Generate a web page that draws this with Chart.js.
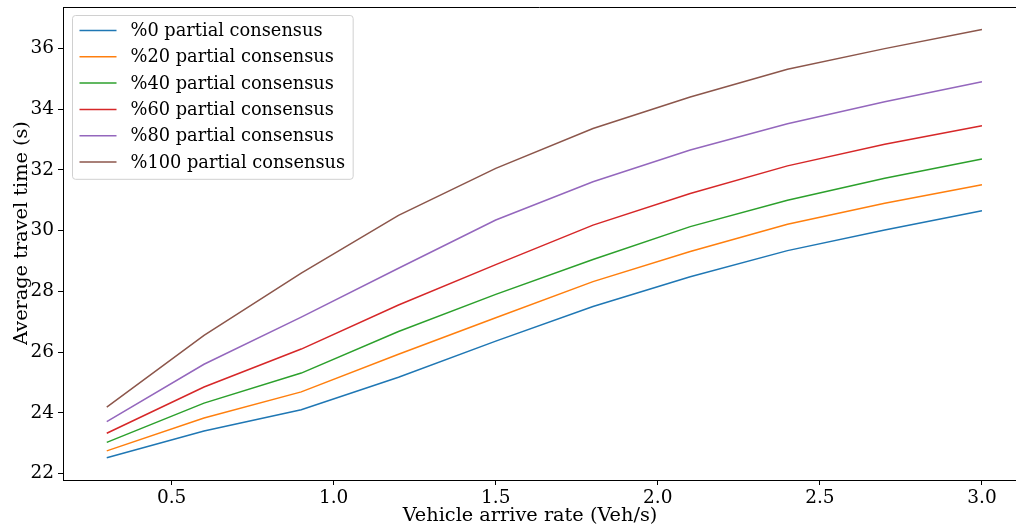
<!DOCTYPE html>
<html>
<head>
<meta charset="utf-8">
<script src="https://cdn.jsdelivr.net/npm/chart.js@4.4.1/dist/chart.umd.min.js"></script>
<style>
  html, body { margin: 0; padding: 0; background: #fff; }
  #wrap { width: 1016px; height: 529px; }
</style>
</head>
<body>
<div id="wrap"><canvas id="myChart" width="1016" height="529"></canvas></div>
<script>
// arrival rate (Veh/s)
var rates = [0.3, 0.6, 0.9, 1.2, 1.5, 1.8, 2.1, 2.4, 2.7, 3.0];

// average travel time (s) per share of partial consensus
var pc0   = [22.52, 23.40, 24.10, 25.17, 26.36, 27.50, 28.48, 29.34, 30.02, 30.65];
var pc20  = [22.75, 23.83, 24.69, 25.93, 27.13, 28.32, 29.31, 30.21, 30.90, 31.51];
var pc40  = [23.03, 24.32, 25.31, 26.68, 27.90, 29.05, 30.13, 31.00, 31.72, 32.36];
var pc60  = [23.33, 24.85, 26.10, 27.55, 28.88, 30.18, 31.22, 32.13, 32.84, 33.45];
var pc80  = [23.71, 25.60, 27.15, 28.76, 30.35, 31.61, 32.65, 33.52, 34.24, 34.90];
var pc100 = [24.19, 26.55, 28.60, 30.50, 32.05, 33.36, 34.40, 35.31, 35.99, 36.62];

var seriesNames = ['%0 partial consensus', '%20 partial consensus', '%40 partial consensus',
                   '%60 partial consensus', '%80 partial consensus', '%100 partial consensus'];
var seriesValues = [pc0, pc20, pc40, pc60, pc80, pc100];
var colors = ['#1f77b4', '#ff7f0e', '#2ca02c', '#d62728', '#9467bd', '#8c564b'];

var xTicks = [0.5, 1.0, 1.5, 2.0, 2.5, 3.0];
var yTicks = [22, 24, 26, 28, 30, 32, 34, 36];

var xTitle = 'Vehicle arrive rate (Veh/s)';
var yTitle = 'Average travel time (s)';

var FONT = "'DejaVu Serif', serif";

var datasets = seriesValues.map(function (vals, i) {
    return {
        label: seriesNames[i],
        data: vals.map(function (v, j) { return { x: rates[j], y: v }; }),
        borderColor: colors[i],
        backgroundColor: colors[i],
        borderWidth: 1.5,
        pointRadius: 0,
        tension: 0,
        fill: false
    };
});

// top spine, axis titles and legend box like matplotlib's
var framePlugin = {
    id: 'frame',
    afterDatasetsDraw: function (chart) {
        var ctx = chart.ctx, a = chart.chartArea;
        ctx.save();
        ctx.strokeStyle = '#000';
        ctx.lineWidth = 1;
        ctx.beginPath();
        ctx.moveTo(a.left, a.top + 0.5);
        ctx.lineTo(a.right, a.top + 0.5);
        ctx.stroke();

        // axis titles (matplotlib centres them on the uncropped axes)
        ctx.fillStyle = '#000';
        ctx.font = '19.3px ' + FONT;
        ctx.textAlign = 'center';
        ctx.textBaseline = 'middle';
        ctx.fillText(xTitle, 530, 516);
        ctx.save();
        ctx.translate(22, 233);
        ctx.rotate(-Math.PI / 2);
        ctx.fillText(yTitle, 0, 0);
        ctx.restore();

        ctx.font = '17.8px ' + FONT;
        var maxW = 0;
        chart.data.datasets.forEach(function (d) {
            maxW = Math.max(maxW, ctx.measureText(d.label).width);
        });
        var bx = a.left + 9.5, by = a.top + 8.5;
        var rowH = 26.3;
        var bw = 58 + maxW + 8, bh = rowH * chart.data.datasets.length + 6;
        ctx.beginPath();
        ctx.roundRect(bx, by, bw, bh, 3);
        ctx.fillStyle = 'rgba(255,255,255,0.8)';
        ctx.fill();
        ctx.strokeStyle = '#d0d0d0';
        ctx.stroke();

        ctx.textBaseline = 'middle';
        ctx.textAlign = 'left';
        chart.data.datasets.forEach(function (d, i) {
            var cy = by + 15 + i * rowH;
            ctx.strokeStyle = d.borderColor;
            ctx.lineWidth = 1.5;
            ctx.beginPath();
            ctx.moveTo(bx + 7, cy);
            ctx.lineTo(bx + 44, cy);
            ctx.stroke();
            ctx.fillStyle = '#000';
            ctx.fillText(d.label, bx + 58, cy + 1);
        });
        ctx.restore();
    }
};

var ctx = document.getElementById('myChart');
var chart = new Chart(ctx, {
    type: 'line',
    data: { datasets: datasets },
    plugins: [framePlugin],
    options: {
        responsive: false,
        animation: false,
        devicePixelRatio: 1,
        layout: { padding: { top: 7, right: 0, left: 0, bottom: 0 } },
        plugins: {
            legend: { display: false },
            tooltip: { enabled: false }
        },
        scales: {
            x: {
                type: 'linear',
                min: 0.165,
                max: 3.105,
                afterBuildTicks: function (s) { s.ticks = xTicks.map(function (v) { return { value: v }; }); },
                afterFit: function (s) { s.height = 49; s.paddingLeft = 0; s.paddingRight = 0; },
                grid: { display: true, drawOnChartArea: false, drawTicks: true, tickLength: 5, color: '#000' },
                border: { display: true, color: '#000', width: 1 },
                ticks: {
                    padding: 2,
                    color: '#000',
                    font: { family: FONT, size: 18.5 },
                    callback: function (v) { return v.toFixed(1); }
                },
                title: { display: false }
            },
            y: {
                type: 'linear',
                min: 21.79,
                max: 37.36,
                afterBuildTicks: function (s) { s.ticks = yTicks.map(function (v) { return { value: v }; }); },
                afterFit: function (s) { s.width = 63; s.paddingTop = 0; s.paddingBottom = 0; },
                grid: { display: true, drawOnChartArea: false, drawTicks: true, tickLength: 5, color: '#000' },
                border: { display: true, color: '#000', width: 1 },
                ticks: {
                    padding: 4,
                    color: '#000',
                    font: { family: FONT, size: 18.5 },
                    callback: function (v) { return String(v); }
                },
                title: { display: false }
            }
        }
    }
});
</script>
</body>
</html>
